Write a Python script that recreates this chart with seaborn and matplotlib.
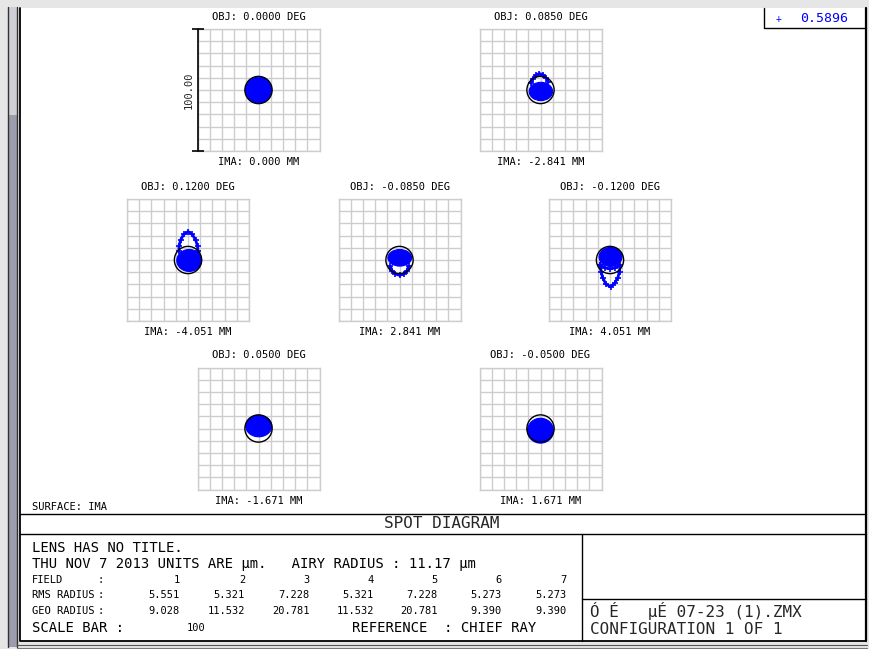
import numpy as np
import matplotlib
matplotlib.use("Agg")
import matplotlib.pyplot as plt
import seaborn as sns
from matplotlib.patches import Circle, Ellipse, Rectangle

W, H = 869, 649

# ---- data ----
obj_labels = ['OBJ: 0.0000 DEG', 'OBJ: 0.0850 DEG', 'OBJ: 0.1200 DEG', 'OBJ: -0.0850 DEG',
              'OBJ: -0.1200 DEG', 'OBJ: 0.0500 DEG', 'OBJ: -0.0500 DEG']
ima_labels = ['IMA: 0.000 MM', 'IMA: -2.841 MM', 'IMA: -4.051 MM', 'IMA: 2.841 MM',
              'IMA: 4.051 MM', 'IMA: -1.671 MM', 'IMA: 1.671 MM']
field_ids = [1, 2, 3, 4, 5, 6, 7]
rms_radius = [5.551, 5.321, 7.228, 5.321, 7.228, 5.273, 5.273]
geo_radius = [9.028, 11.532, 20.781, 11.532, 20.781, 9.390, 9.390]
airy_radius = 11.17
scale_bar = 100
wavelength = 0.5896

# dense core of each spot, um relative to chief ray (centre x/y, half width/height)
core_x = [0.0, 0.3, 1.0, 0.2, 0.4, 0.2, 0.0]
core_y = [0.0, -1.2, -0.4, 1.8, 2.5, 2.0, -1.8]
core_w = [10.6, 9.6, 10.2, 9.7, 9.4, 10.7, 10.7]
core_h = [10.5, 7.5, 9.0, 6.8, 7.8, 8.8, 10.2]

# coma flare outlines (um)
flare_x = {
    2: [-7.5, -6.5, -4.0, -1.0, 2.0, 4.5, 6.5],
    3: [-7.5, -7.3, -6.0, -3.5, 0.2, 3.5, 6.2, 7.8, 8.2],
    4: [-7.5, -6.0, -3.5, 0.0, 3.5, 6.0, 7.5],
    5: [-7.8, -7.4, -6.0, -3.5, 0.5, 3.8, 6.4, 7.8, 8.2, 4.0, 0.0, -4.0, -7.8],
}
flare_y = {
    2: [5.5, 9.0, 12.0, 13.5, 12.5, 10.0, 6.5],
    3: [7.0, 11.5, 16.5, 21.0, 23.3, 21.0, 16.5, 11.5, 7.0],
    4: [-5.0, -9.0, -11.5, -12.5, -11.5, -9.0, -5.0],
    5: [-4.0, -9.5, -14.5, -19.5, -22.0, -19.0, -14.5, -9.5, -4.0, -6.5, -7.2, -6.5, -4.0],
}

# ---- layout (pixels) ----
grid_left = [197.5, 479.5, 127, 338.5, 549, 197.5, 479.5]
grid_top = [29, 29, 199, 199, 199, 367.5, 367.5]
gs = 122
col_right = [180, 245, 310, 374, 438, 502, 567]

sns.set_style("white")
plt.rcParams['font.family'] = ['DejaVu Sans Mono']
BLUE = '#0000ff'

fig = plt.figure(figsize=(W / 100, H / 100), dpi=100, facecolor='#e6e6e6')
bg = fig.add_axes([0, 0, 1, 1], zorder=0)
bg.set_xlim(0, W)
bg.set_ylim(H, 0)
bg.axis('off')

# window chrome
bg.add_patch(Rectangle((7.5, 7), 9.5, 640, fc='#9c9cac', ec='none'))
bg.add_patch(Rectangle((7.5, 7), 9.5, 108, fc='#cfcfd6', ec='none'))
bg.plot([7.5, 7.5], [7, 647], color='#333333', lw=1)
bg.plot([17, 17], [7, 647], color='#333333', lw=1)
bg.add_patch(Rectangle((19.5, 8), 846, 633, fc='white', ec='none'))
bg.plot([19.5, 19.5, 865.5], [8, 641, 641], color='black', lw=1.3)
bg.plot([865.5, 865.5], [8, 641], color='black', lw=1.6)
bg.plot([17, 867], [645, 645], color='#555555', lw=0.8)
bg.plot([17, 867], [647.5, 647.5], color='#777777', lw=0.8)

# table lines
bg.plot([19.5, 865.5], [514, 514], color='black', lw=1)
bg.plot([19.5, 865.5], [533.5, 533.5], color='black', lw=1)
bg.plot([582, 582], [533.5, 641], color='black', lw=1)
bg.plot([582, 865.5], [599, 599], color='black', lw=1)

# wavelength legend
bg.plot([764, 764, 865.5], [8, 28, 28], color='black', lw=1)
bg.text(779, 19, '+', color=BLUE, fontsize=7, ha='center', va='center')
bg.text(800, 19, f'{wavelength:.4f}', color=BLUE, fontsize=9.5, va='center')

small = dict(fontsize=7.5, va='center', color='black')
big = dict(fontsize=10, va='center', color='black')

for i in range(7):
    l, t = grid_left[i], grid_top[i]
    ax = fig.add_axes([l / W, 1 - (t + gs) / H, gs / W, gs / H], zorder=2)
    ax.set_xlim(-50, 50)
    ax.set_ylim(-50, 50)
    ticks = np.arange(-50, 51, 10)
    ax.set_xticks(ticks)
    ax.set_yticks(ticks)
    ax.grid(True, color='#cdcdcd', lw=1)
    ax.tick_params(length=0, labelbottom=False, labelleft=False)
    for s in ax.spines.values():
        s.set_color('#cdcdcd')
        s.set_linewidth(1)
    ax.set_facecolor('white')

    ax.add_patch(Ellipse((core_x[i], core_y[i]), 2 * core_w[i], 2 * core_h[i],
                         fc=BLUE, ec=BLUE, lw=0.8, zorder=3))
    fid = field_ids[i]
    if fid in flare_x:
        sns.lineplot(x=flare_x[fid], y=flare_y[fid], sort=False, estimator=None,
                     color=BLUE, linewidth=2, marker='+', markersize=5,
                     markeredgewidth=1.2, markeredgecolor=BLUE, ax=ax, zorder=3)
    ax.add_patch(Circle((0, 0), airy_radius, fill=False, ec='black', lw=1, zorder=4))
    ax.set_xlabel('')
    ax.set_ylabel('')

    if i == 0:
        ax.plot([-50, -50], [-scale_bar / 2, scale_bar / 2], color='black', lw=1.2,
                marker='_', ms=9, mew=1.2, clip_on=False, zorder=5)
        ax.text(-57, 0, f'{scale_bar:.2f}', rotation=90, ha='center', va='center',
                fontsize=7.5)

    bg.text(l + gs / 2, t - 12, obj_labels[i], ha='center', **small)
    bg.text(l + gs / 2, t + gs + 11, ima_labels[i], ha='center', **small)

bg.text(32, 507, 'SURFACE: IMA', **small)
bg.text(442, 524, 'SPOT DIAGRAM', ha='center', fontsize=11.5, va='center')

bg.text(32, 548, 'LENS HAS NO TITLE.', **big)
bg.text(32, 564, 'THU NOV 7 2013 UNITS ARE \u00b5m.   AIRY RADIUS : '
        f'{airy_radius:.2f} \u00b5m', **big)

rows = [('FIELD', [str(f) for f in field_ids], 580),
        ('RMS RADIUS', [f'{v:.3f}' for v in rms_radius], 595.5),
        ('GEO RADIUS', [f'{v:.3f}' for v in geo_radius], 611)]
for label, vals, y in rows:
    bg.text(32, y, label, **small)
    bg.text(97, y, ':', **small)
    for xr, v in zip(col_right, vals):
        bg.text(xr, y, v, ha='right', **small)

bg.text(32, 628, 'SCALE BAR :', **big)
bg.text(205, 628, f'{scale_bar}', ha='right', **small)
bg.text(352, 628, 'REFERENCE  : CHIEF RAY', **big)

bg.text(590, 611, '\u00d3 \u00c9   \u00b5\u00c9 07-23 (1).ZMX', fontsize=11.5, va='center')
bg.text(590, 630, 'CONFIGURATION 1 OF 1', fontsize=11.5, va='center')

fig.savefig('out.png', dpi=100, facecolor=fig.get_facecolor())
